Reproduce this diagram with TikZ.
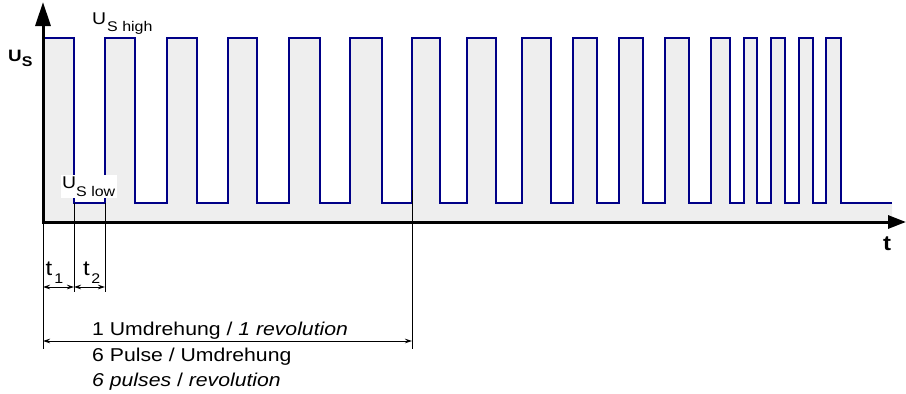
\documentclass[tikz,border=0pt]{standalone}
\usepackage{fontspec}
\setmainfont{Liberation Sans}[FakeStretch=1.14]
\usetikzlibrary{arrows.meta,calc}
\definecolor{sigblue}{RGB}{0,0,135}
\definecolor{siggray}{RGB}{238,238,238}
\newcommand{\pulses}{105/135,167/197,228/257,289/320,350/382,412/440,467/496,522/551,573/597,619/643,665/689,711/730,744/757,771/785,799/813,826/841}
\newcommand{\ssub}[2][7]{\raisebox{-#1pt}{\fontsize{14}{14}\selectfont #2}}

\begin{document}
\begin{tikzpicture}[x=1pt,y=-1pt,%%%Drehzahlsignal
  signal/.style={sigblue,line width=1.8pt},
  axis/.style={line width=3pt,{Triangle[length=24pt,width=15pt]}-{Triangle[length=18pt,width=13pt]}},
  dimline/.style={line width=0.8pt},
  measure/.style={line width=0.8pt,{Stealth[length=7pt,width=4.5pt]}-{Stealth[length=7pt,width=4.5pt]}},
  lbl/.style={inner sep=0pt,anchor=base west,font=\fontsize{18.6}{22}\selectfont}]
\useasboundingbox (0,0) rectangle (906,394);
\coordinate (o) at (43,222);
\coordinate (ytip) at (43,2);
\coordinate (xtip) at (906,222);
% Flaeche unter dem Signal
\fill[siggray] (o) -- (43,38) -- (74,38) -- (74,203)
  \foreach \r/\f in \pulses {-- (\r,203) -- (\r,38) -- (\f,38) -- (\f,203)}
  -- (892,203) -- (892,222) -- cycle;
\draw[signal] (43,38) -- (74,38) -- (74,203)
  \foreach \r/\f in \pulses {-- (\r,203) -- (\r,38) -- (\f,38) -- (\f,203)}
  -- (892,203);
\draw[axis] (ytip) -- (o) -- (xtip);
% Masslinien
\coordinate (f1) at (74,203);
\coordinate (r2) at (105,203);
\coordinate (r7) at (412,190);
\coordinate (e0) at (43,349);
\coordinate (e1) at (74,292);
\coordinate (e2) at (105,292);
\coordinate (e7) at (412,349);
\draw[dimline] (o) -- (e0);
\draw[dimline] (f1) -- (e1);
\draw[dimline] (r2) -- (e2);
\draw[dimline] (r7) -- (e7);
\coordinate (a0) at (43,287);
\coordinate (a1) at (74,287);
\coordinate (a2) at (105,287);
\coordinate (b0) at (43,341);
\coordinate (b1) at (412,341);
\draw[measure] (a0) -- (a1);
\draw[measure] (a1) -- (a2);
\draw[measure] (b0) -- (b1);
% Beschriftung
\node[inner sep=0pt,anchor=base west,font=\bfseries\fontsize{16.5}{16.5}\selectfont] (us) at (8,61.3) {U\ssub[5]{S}};
\node[inner sep=0pt,anchor=base west,font=\fontsize{17}{17}\selectfont] (ushigh) at (92,24.7) {U\kern1pt\ssub{S high}};
\node[inner sep=1.5pt,fill=white,anchor=base west,font=\fontsize{17}{17}\selectfont] (uslow) at (60.5,188.3) {U\ssub[8]{S low}};
\node[inner sep=0pt,anchor=base,font=\bfseries\fontsize{21}{21}\selectfont] (tlab) at (887,250.7) {t};
\node[lbl,font=\fontsize{21}{21}\selectfont] (tone) at (45.5,275) {t\kern2pt\ssub[8]{1}};
\node[lbl,font=\fontsize{21}{21}\selectfont] (ttwo) at (83,275) {t\kern1.5pt\ssub[8]{2}};
\node[lbl] (rev) at (92,335) {1 Umdrehung / \textit{1 revolution}};
\node[lbl] (pde) at (92,361.7) {6 Pulse / Umdrehung};
\node[lbl] (pen) at (92,386.7) {\textit{6 pulses} / \textit{revolution}};
\end{tikzpicture}
\end{document}
